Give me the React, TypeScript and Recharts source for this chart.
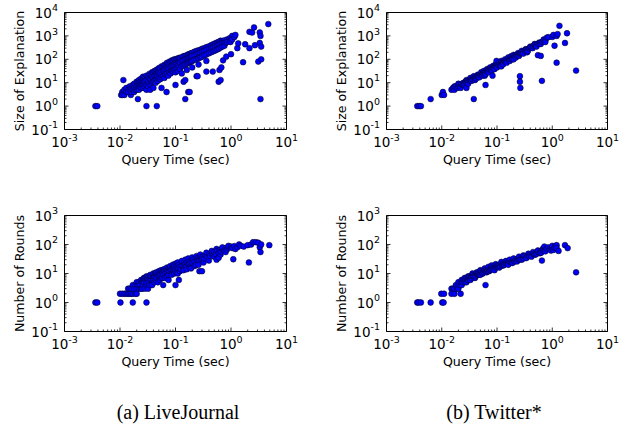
import React from 'react';
import { ScatterChart, Scatter, XAxis, YAxis } from 'recharts';

// ---------- tick decades ----------
const xDecades = [0.001, 0.01, 0.1, 1, 10];
const sizeDecades = [0.1, 1, 10, 100, 1000, 10000];
const roundsDecades = [0.1, 1, 10, 100, 1000];

// ---------- captions / labels ----------
const xLabel = 'Query Time (sec)';
const sizeLabel = 'Size of Explanation';
const roundsLabel = 'Number of Rounds';
const captionA = '(a) LiveJournal';
const captionB = '(b) Twitter*';

// ---------- data: [query time (sec), value] ----------
const ljSize: [number, number][] = [
  [0.0036, 1], [0.0039, 1], [0.0105, 3], [0.0115, 13], [0.0157, 3], [0.021, 2], [0.03, 1], [0.046, 1],
  [0.011, 4], [0.011, 3], [0.012, 5], [0.012, 3], [0.013, 6], [0.013, 4], [0.014, 5], [0.014, 4], [0.015, 7],
  [0.015, 5], [0.016, 6], [0.016, 4], [0.017, 8], [0.017, 5], [0.018, 9], [0.018, 6], [0.018, 4], [0.019, 8],
  [0.019, 5], [0.02, 11], [0.02, 7], [0.02, 5], [0.021, 10], [0.021, 6], [0.022, 13], [0.022, 8], [0.022, 5],
  [0.023, 11], [0.023, 7], [0.024, 15], [0.024, 9], [0.024, 6], [0.025, 12], [0.025, 8], [0.026, 18], [0.026, 11],
  [0.026, 6], [0.027, 14], [0.027, 9], [0.028, 17], [0.028, 12], [0.028, 7], [0.03, 20], [0.03, 13], [0.03, 8],
  [0.03, 5], [0.032, 18], [0.032, 11], [0.032, 7], [0.034, 24], [0.034, 15], [0.034, 9], [0.035, 5], [0.036, 22],
  [0.036, 14], [0.036, 8], [0.038, 28], [0.038, 18], [0.038, 10], [0.04, 26], [0.04, 16], [0.04, 11], [0.04, 6],
  [0.042, 32], [0.042, 20], [0.042, 12], [0.044, 30], [0.044, 19], [0.044, 10], [0.046, 36], [0.046, 24],
  [0.046, 14], [0.048, 33], [0.048, 21], [0.048, 12], [0.05, 42], [0.05, 27], [0.05, 15], [0.053, 40], [0.053, 25],
  [0.053, 14], [0.056, 50], [0.056, 30], [0.056, 17], [0.056, 6], [0.06, 48], [0.06, 33], [0.06, 19], [0.063, 58],
  [0.063, 36], [0.063, 16], [0.066, 55], [0.066, 40], [0.066, 22], [0.069, 4], [0.07, 70], [0.07, 45], [0.07, 24],
  [0.074, 66], [0.074, 42], [0.074, 20], [0.078, 80], [0.078, 52], [0.078, 28], [0.082, 75], [0.082, 48],
  [0.082, 25], [0.086, 90], [0.086, 58], [0.086, 32], [0.09, 85], [0.09, 55], [0.09, 30], [0.095, 100], [0.095, 65],
  [0.095, 35], [0.1, 95], [0.1, 60], [0.1, 28], [0.1, 8], [0.105, 105], [0.105, 70], [0.105, 40], [0.11, 100],
  [0.11, 65], [0.11, 32], [0.115, 115], [0.115, 78], [0.115, 45], [0.12, 110], [0.12, 72], [0.12, 38], [0.13, 125],
  [0.13, 85], [0.13, 50], [0.13, 25], [0.14, 135], [0.14, 90], [0.14, 55], [0.14, 11], [0.15, 140], [0.15, 100],
  [0.15, 60], [0.15, 13], [0.15, 2], [0.16, 150], [0.16, 105], [0.16, 65], [0.16, 35], [0.17, 160], [0.17, 115],
  [0.17, 70], [0.17, 4], [0.18, 170], [0.18, 120], [0.18, 75], [0.18, 4], [0.19, 180], [0.19, 130], [0.19, 80],
  [0.2, 190], [0.2, 140], [0.2, 85], [0.2, 45], [0.22, 210], [0.22, 150], [0.22, 95], [0.24, 230], [0.24, 165],
  [0.24, 100], [0.24, 19], [0.25, 19], [0.26, 240], [0.26, 180], [0.26, 110], [0.26, 60], [0.28, 255], [0.28, 190],
  [0.28, 120], [0.3, 280], [0.3, 210], [0.3, 130], [0.33, 300], [0.33, 230], [0.33, 150], [0.36, 330], [0.36, 250],
  [0.36, 160], [0.36, 85], [0.36, 30], [0.4, 360], [0.4, 280], [0.4, 180], [0.44, 400], [0.44, 300], [0.44, 200],
  [0.47, 30], [0.48, 440], [0.48, 330], [0.48, 220], [0.52, 480], [0.52, 360], [0.52, 240], [0.56, 520], [0.56, 400],
  [0.56, 260], [0.6, 560], [0.6, 430], [0.6, 280], [0.6, 11], [0.62, 35], [0.65, 620], [0.65, 470], [0.65, 320],
  [0.65, 13], [0.67, 45], [0.7, 600], [0.7, 500], [0.7, 350], [0.72, 90], [0.76, 650], [0.76, 520], [0.76, 380],
  [0.8, 500], [0.82, 130], [0.85, 700], [0.85, 550], [0.95, 800], [0.95, 600], [0.98, 550], [1.0, 165],
  [1.05, 1000], [1.05, 700], [1.15, 900], [1.2, 1100], [1.3, 300], [1.35, 480], [1.65, 75], [1.8, 440], [2.15, 300],
  [2.15, 1500], [2.4, 1400], [2.6, 2300], [2.7, 400], [3.1, 80], [3.3, 500], [3.3, 1400], [3.4, 1000], [3.4, 2],
  [3.5, 350], [3.5, 100], [4.7, 3200],
];

const twSize: [number, number][] = [
  [0.0036, 1], [0.0039, 1], [0.0042, 1], [0.0063, 2], [0.01, 3], [0.0105, 4], [0.011, 3],
  [0.015, 5], [0.016, 6], [0.017, 5], [0.017, 7], [0.018, 7], [0.019, 6], [0.02, 7], [0.02, 9], [0.021, 8],
  [0.022, 7], [0.022, 6], [0.023, 9], [0.024, 8], [0.025, 10], [0.025, 8], [0.026, 9], [0.027, 11], [0.028, 10],
  [0.028, 13], [0.028, 6], [0.029, 12], [0.03, 11], [0.03, 9], [0.031, 13], [0.032, 12], [0.033, 14], [0.033, 16],
  [0.034, 13], [0.035, 15], [0.035, 12], [0.036, 14], [0.038, 16], [0.038, 19], [0.038, 2], [0.04, 17], [0.04, 13],
  [0.041, 16], [0.042, 15], [0.043, 19], [0.045, 18], [0.045, 22], [0.046, 20], [0.048, 21], [0.048, 17], [0.05, 22],
  [0.052, 24], [0.052, 28], [0.054, 23], [0.055, 20], [0.056, 26], [0.058, 27], [0.058, 32], [0.06, 28], [0.06, 20],
  [0.062, 27], [0.062, 23], [0.062, 8], [0.065, 31], [0.066, 38], [0.068, 33], [0.07, 34], [0.07, 28], [0.072, 37],
  [0.075, 39], [0.075, 45], [0.078, 38], [0.08, 42], [0.08, 33], [0.083, 44], [0.083, 20], [0.085, 52], [0.086, 46],
  [0.09, 48], [0.09, 38], [0.093, 52], [0.095, 62], [0.096, 50], [0.098, 85], [0.1, 55], [0.1, 45], [0.105, 58],
  [0.11, 62], [0.11, 75], [0.115, 66], [0.115, 52], [0.12, 70], [0.12, 85], [0.12, 50], [0.125, 74], [0.13, 78],
  [0.13, 62], [0.135, 82], [0.14, 86], [0.14, 100], [0.145, 84], [0.15, 92], [0.15, 72], [0.16, 100], [0.16, 120],
  [0.17, 108], [0.17, 85], [0.175, 104], [0.18, 115], [0.18, 135], [0.19, 122], [0.19, 100], [0.2, 132], [0.2, 155],
  [0.2, 100], [0.21, 140], [0.22, 148], [0.22, 120], [0.23, 145], [0.24, 160], [0.24, 185], [0.25, 170], [0.25, 140],
  [0.26, 178], [0.26, 19], [0.26, 11], [0.265, 6], [0.27, 185], [0.28, 195], [0.28, 230], [0.3, 220], [0.3, 175],
  [0.32, 235], [0.33, 270], [0.34, 255], [0.35, 200], [0.36, 270], [0.36, 220], [0.38, 290], [0.4, 318], [0.4, 350],
  [0.42, 330], [0.44, 300], [0.45, 365], [0.48, 395], [0.48, 450], [0.5, 420], [0.52, 400], [0.52, 350], [0.55, 460],
  [0.55, 150], [0.58, 520], [0.6, 500], [0.62, 140], [0.62, 450], [0.65, 560], [0.65, 12], [0.7, 620], [0.7, 700],
  [0.75, 650], [0.75, 550], [0.8, 850], [0.85, 880], [1.0, 900], [1.05, 1100], [1.1, 380], [1.2, 1000], [1.2, 72],
  [1.25, 1200], [1.35, 2700], [1.7, 500], [1.85, 1300], [2.7, 33],
];

const ljRounds: [number, number][] = [
  [0.0036, 1], [0.0039, 1], [0.0102, 1], [0.017, 1], [0.03, 1],
  [0.01, 2], [0.011, 2], [0.012, 2], [0.013, 2], [0.014, 2], [0.014, 3], [0.015, 2], [0.015, 3], [0.016, 2],
  [0.016, 3], [0.017, 2], [0.017, 4], [0.018, 3], [0.019, 2], [0.019, 4], [0.02, 3], [0.02, 5], [0.02, 2],
  [0.021, 4], [0.022, 3], [0.022, 5], [0.023, 4], [0.024, 6], [0.024, 3], [0.025, 5], [0.025, 3], [0.026, 4],
  [0.026, 6], [0.027, 5], [0.027, 7], [0.028, 3], [0.028, 7], [0.029, 6], [0.03, 4], [0.03, 5], [0.03, 8],
  [0.031, 7], [0.032, 6], [0.032, 3], [0.033, 5], [0.033, 8], [0.034, 4], [0.035, 7], [0.035, 9], [0.036, 6],
  [0.037, 8], [0.038, 5], [0.038, 4], [0.039, 9], [0.04, 7], [0.04, 6], [0.04, 10], [0.042, 8], [0.042, 5],
  [0.043, 10], [0.044, 6], [0.045, 9], [0.045, 11], [0.046, 7], [0.048, 10], [0.048, 5], [0.05, 8], [0.05, 11],
  [0.05, 12], [0.052, 9], [0.052, 6], [0.054, 12], [0.055, 7], [0.055, 13], [0.056, 10], [0.058, 11], [0.058, 7],
  [0.06, 13], [0.06, 9], [0.06, 4], [0.062, 14], [0.063, 12], [0.065, 10], [0.065, 7], [0.068, 14], [0.07, 11],
  [0.07, 8], [0.07, 16], [0.073, 13], [0.075, 6], [0.075, 9], [0.076, 15], [0.078, 12], [0.08, 16], [0.08, 18],
  [0.083, 13], [0.085, 10], [0.085, 9], [0.088, 17], [0.09, 14], [0.09, 20], [0.093, 12], [0.095, 18], [0.095, 10],
  [0.1, 15], [0.1, 12], [0.1, 22], [0.1, 4], [0.105, 19], [0.105, 11], [0.11, 16], [0.11, 10], [0.11, 24],
  [0.115, 20], [0.115, 6], [0.12, 17], [0.12, 12], [0.125, 14], [0.13, 21], [0.13, 27], [0.135, 18], [0.14, 15],
  [0.14, 13], [0.145, 23], [0.15, 20], [0.15, 30], [0.155, 17], [0.16, 24], [0.16, 14], [0.17, 21], [0.17, 33],
  [0.175, 26], [0.18, 22], [0.18, 16], [0.19, 18], [0.19, 15], [0.2, 28], [0.2, 24], [0.2, 36], [0.21, 30],
  [0.22, 25], [0.22, 18], [0.23, 20], [0.24, 32], [0.24, 40], [0.25, 27], [0.26, 35], [0.26, 20], [0.27, 29],
  [0.27, 12], [0.28, 38], [0.28, 45], [0.29, 31], [0.3, 36], [0.3, 12], [0.32, 40], [0.32, 24], [0.33, 33],
  [0.35, 43], [0.36, 52], [0.37, 37], [0.4, 46], [0.4, 28], [0.42, 40], [0.45, 50], [0.45, 60], [0.48, 43],
  [0.5, 55], [0.5, 38], [0.53, 47], [0.55, 30], [0.55, 70], [0.56, 60], [0.6, 52], [0.6, 35], [0.63, 65],
  [0.65, 45], [0.66, 57], [0.7, 70], [0.7, 80], [0.75, 62], [0.8, 75], [0.8, 55], [0.85, 68], [0.9, 80], [0.9, 90],
  [1.0, 85], [1.05, 75], [1.1, 31], [1.15, 88], [1.2, 70], [1.3, 80], [1.4, 100], [1.5, 90], [1.7, 85], [2.0, 95],
  [2.1, 24], [2.3, 100], [2.5, 120], [2.8, 120], [3.1, 115], [3.3, 80], [3.4, 55], [3.5, 100], [4.9, 95],
];

const twRounds: [number, number][] = [
  [0.0036, 1], [0.0038, 1], [0.0042, 1], [0.0063, 1], [0.0102, 1], [0.0108, 1], [0.0098, 2], [0.011, 2],
  [0.015, 3], [0.015, 2], [0.017, 2], [0.022, 2], [0.016, 3], [0.017, 3], [0.018, 4], [0.019, 3], [0.02, 4],
  [0.02, 5], [0.02, 3], [0.021, 4], [0.022, 5], [0.023, 4], [0.023, 6], [0.024, 5], [0.025, 6], [0.026, 5],
  [0.026, 7], [0.027, 6], [0.028, 7], [0.028, 5], [0.029, 6], [0.03, 6], [0.03, 8], [0.031, 7], [0.032, 8],
  [0.033, 7], [0.033, 6], [0.034, 8], [0.035, 7], [0.036, 8], [0.036, 10], [0.037, 9], [0.038, 8], [0.04, 9],
  [0.04, 7], [0.041, 8], [0.042, 10], [0.043, 11], [0.044, 9], [0.045, 10], [0.046, 11], [0.047, 9], [0.048, 10],
  [0.05, 9], [0.05, 11], [0.05, 13], [0.052, 12], [0.054, 10], [0.055, 10], [0.056, 12], [0.058, 11], [0.06, 13],
  [0.06, 15], [0.062, 12], [0.062, 4], [0.064, 14], [0.065, 11], [0.066, 12], [0.068, 13], [0.07, 14], [0.07, 17],
  [0.072, 12], [0.075, 15], [0.075, 13], [0.078, 14], [0.08, 16], [0.08, 19], [0.083, 15], [0.086, 17], [0.09, 15],
  [0.09, 13], [0.093, 18], [0.095, 21], [0.096, 16], [0.1, 17], [0.1, 19], [0.105, 18], [0.11, 20], [0.11, 16],
  [0.115, 18], [0.12, 21], [0.12, 25], [0.125, 19], [0.13, 22], [0.13, 19], [0.135, 20], [0.14, 23], [0.145, 27],
  [0.15, 22], [0.155, 25], [0.16, 23], [0.16, 20], [0.17, 26], [0.17, 30], [0.18, 24], [0.19, 27], [0.19, 23],
  [0.2, 28], [0.2, 33], [0.21, 26], [0.22, 30], [0.23, 28], [0.23, 26], [0.24, 31], [0.25, 33], [0.25, 38],
  [0.26, 30], [0.28, 35], [0.28, 30], [0.3, 37], [0.3, 33], [0.3, 42], [0.32, 40], [0.34, 36], [0.34, 34],
  [0.36, 42], [0.37, 48], [0.38, 40], [0.4, 45], [0.42, 42], [0.42, 38], [0.45, 48], [0.45, 55], [0.48, 45],
  [0.5, 52], [0.5, 45], [0.52, 48], [0.55, 55], [0.55, 62], [0.6, 58], [0.6, 50], [0.63, 52], [0.65, 28],
  [0.66, 62], [0.68, 72], [0.7, 70], [0.72, 85], [0.75, 65], [0.75, 58], [0.8, 72], [0.85, 80], [0.9, 68],
  [0.95, 62], [1.0, 75], [1.0, 90], [1.05, 65], [1.1, 80], [1.15, 90], [1.2, 95], [1.2, 75], [1.3, 60], [1.7, 95],
  [1.9, 75], [2.7, 11],
];

// ---------- helpers ----------
const logTicks = (decades: number[]) => {
  const t: number[] = [];
  for (let i = 0; i < decades.length - 1; i++) for (let m = 1; m <= 9; m++) t.push(decades[i] * m);
  t.push(decades[decades.length - 1]);
  return t;
};
const isMajor = (v: number) => Math.abs(Math.log10(v) - Math.round(Math.log10(v))) < 1e-6;
const expOf = (v: number) => {
  const e = Math.round(Math.log10(v));
  return e < 0 ? '-' + Math.abs(e) : String(e);
};

const FONT = "'DejaVu Sans', 'Bitstream Vera Sans', sans-serif";
const TICK_FS = 13.5;
const EXP_FS = 9.5;
const LABEL_FS = 12.6;
const MAJOR = 4;
const MINOR = 2;
const INK = '#000';

const BottomTick = (p: any) => {
  const { x, y, payload } = p;
  const major = isMajor(payload.value);
  return (
    <g>
      <line x1={x} x2={x} y1={y} y2={y - (major ? MAJOR : MINOR)} stroke={INK} strokeWidth={0.8} />
      {major && (
        <text x={x} y={y + 17.7} textAnchor="middle" fontFamily={FONT} fontSize={TICK_FS} fill={INK} stroke="none">
          <tspan fill={INK}>10</tspan>
          <tspan dy={-6.5} fontSize={EXP_FS} fill={INK}>{expOf(payload.value)}</tspan>
        </text>
      )}
    </g>
  );
};
const TopTick = (p: any) => {
  const { x, y, payload } = p;
  const major = isMajor(payload.value);
  return <line x1={x} x2={x} y1={y} y2={y + (major ? MAJOR : MINOR)} stroke={INK} strokeWidth={0.8} />;
};
const LeftTick = (p: any) => {
  const { x, y, payload } = p;
  const major = isMajor(payload.value);
  return (
    <g>
      <line x1={x} x2={x + (major ? MAJOR : MINOR)} y1={y} y2={y} stroke={INK} strokeWidth={0.8} />
      {major && (
        <text x={x - 6.5} y={y + 5.1} textAnchor="end" fontFamily={FONT} fontSize={TICK_FS} fill={INK} stroke="none">
          <tspan fill={INK}>10</tspan>
          <tspan dy={-6.5} fontSize={EXP_FS} fill={INK}>{expOf(payload.value)}</tspan>
        </text>
      )}
    </g>
  );
};
const RightTick = (p: any) => {
  const { x, y, payload } = p;
  const major = isMajor(payload.value);
  return <line x1={x} x2={x - (major ? MAJOR : MINOR)} y1={y} y2={y} stroke={INK} strokeWidth={0.8} />;
};

const W = 638;
const H = 426;

type PanelProps = {
  data: [number, number][];
  yDecades: number[];
  yLabel: string;
  plot: { l: number; r: number; t: number; b: number };
};

const Panel = ({ data, yDecades, yLabel, plot }: PanelProps) => {
  const pts = data.map(([x, y]) => ({ x, y }));
  const xTicks = logTicks(xDecades);
  const yTicks = logTicks(yDecades);
  const xDomain = [xDecades[0], xDecades[xDecades.length - 1]];
  const yDomain = [yDecades[0], yDecades[yDecades.length - 1]];
  const yLabelContent = (props: any) => {
    const vb = props.viewBox || {};
    const cx = (vb.x ?? plot.l - 1) + (vb.width ?? 1) - 45;
    const cy = (vb.y ?? plot.t) + (vb.height ?? plot.b - plot.t) / 2;
    return (
      <text
        x={cx}
        y={cy}
        transform={`rotate(-90, ${cx}, ${cy})`}
        textAnchor="middle"
        dominantBaseline="central"
        fontFamily={FONT}
        fontSize={LABEL_FS}
        fill={INK}
      >
        {yLabel}
      </text>
    );
  };
  const xLabelContent = (props: any) => {
    const vb = props.viewBox || {};
    const cx = (vb.x ?? plot.l) + (vb.width ?? plot.r - plot.l) / 2;
    const by = (vb.y ?? plot.b) + 34;
    return (
      <text x={cx} y={by} textAnchor="middle" fontFamily={FONT} fontSize={LABEL_FS} fill={INK}>
        {xLabel}
      </text>
    );
  };
  return (
    <div style={{ position: 'absolute', left: 0, top: 0 }}>
      <ScatterChart
        width={W}
        height={H}
        margin={{ left: plot.l - 1, right: W - plot.r - 1, top: plot.t - 1, bottom: H - plot.b - 1 }}
      >
        <XAxis
          xAxisId="b"
          dataKey="x"
          type="number"
          scale="log"
          domain={xDomain}
          allowDataOverflow
          ticks={xTicks}
          interval={0}
          height={1}
          tickSize={0}
          tickMargin={0}
          tickLine={false}
          tick={<BottomTick />}
          axisLine={{ stroke: INK, strokeWidth: 1 }}
          label={xLabelContent}
        />
        <XAxis
          xAxisId="t"
          orientation="top"
          type="number"
          scale="log"
          domain={xDomain}
          allowDataOverflow
          ticks={xTicks}
          interval={0}
          height={1}
          tickSize={0}
          tickMargin={0}
          tickLine={false}
          tick={<TopTick />}
          axisLine={{ stroke: INK, strokeWidth: 1 }}
        />
        <YAxis
          yAxisId="l"
          dataKey="y"
          type="number"
          scale="log"
          domain={yDomain}
          allowDataOverflow
          ticks={yTicks}
          interval={0}
          width={1}
          tickSize={0}
          tickMargin={0}
          tickLine={false}
          tick={<LeftTick />}
          axisLine={{ stroke: INK, strokeWidth: 1 }}
          label={yLabelContent}
        />
        <YAxis
          yAxisId="r"
          orientation="right"
          type="number"
          scale="log"
          domain={yDomain}
          allowDataOverflow
          ticks={yTicks}
          interval={0}
          width={1}
          tickSize={0}
          tickMargin={0}
          tickLine={false}
          tick={<RightTick />}
          axisLine={{ stroke: INK, strokeWidth: 1 }}
        />
        <Scatter
          xAxisId="b"
          yAxisId="l"
          data={pts}
          isAnimationActive={false}
          shape={(s: any) => (
            <circle cx={s.cx} cy={s.cy} r={2.9} fill="#0000ff" stroke="#000" strokeWidth={0.5} />
          )}
        />
      </ScatterChart>
    </div>
  );
};

const captionStyle: React.CSSProperties = {
  position: 'absolute',
  top: 400,
  width: 300,
  textAlign: 'center',
  fontFamily: "'Liberation Serif', 'Times New Roman', serif",
  fontSize: 20,
  lineHeight: '24px',
  color: '#000',
  whiteSpace: 'nowrap',
};

export default function App() {
  return (
    <div style={{ position: 'absolute', left: 0, top: 0, width: W, height: H, background: '#fff', overflow: 'hidden' }}>
      <Panel data={ljSize} yDecades={sizeDecades} yLabel={sizeLabel} plot={{ l: 64.5, r: 286.5, t: 12.5, b: 129.5 }} />
      <Panel data={twSize} yDecades={sizeDecades} yLabel={sizeLabel} plot={{ l: 386.5, r: 607.5, t: 12.5, b: 129.5 }} />
      <Panel data={ljRounds} yDecades={roundsDecades} yLabel={roundsLabel} plot={{ l: 64.5, r: 286.5, t: 215.5, b: 331.5 }} />
      <Panel data={twRounds} yDecades={roundsDecades} yLabel={roundsLabel} plot={{ l: 386.5, r: 607.5, t: 215.5, b: 331.5 }} />
      <div style={{ ...captionStyle, left: 178 - 150 }}>{captionA}</div>
      <div style={{ ...captionStyle, left: 494 - 150 }}>{captionB}</div>
    </div>
  );
}
